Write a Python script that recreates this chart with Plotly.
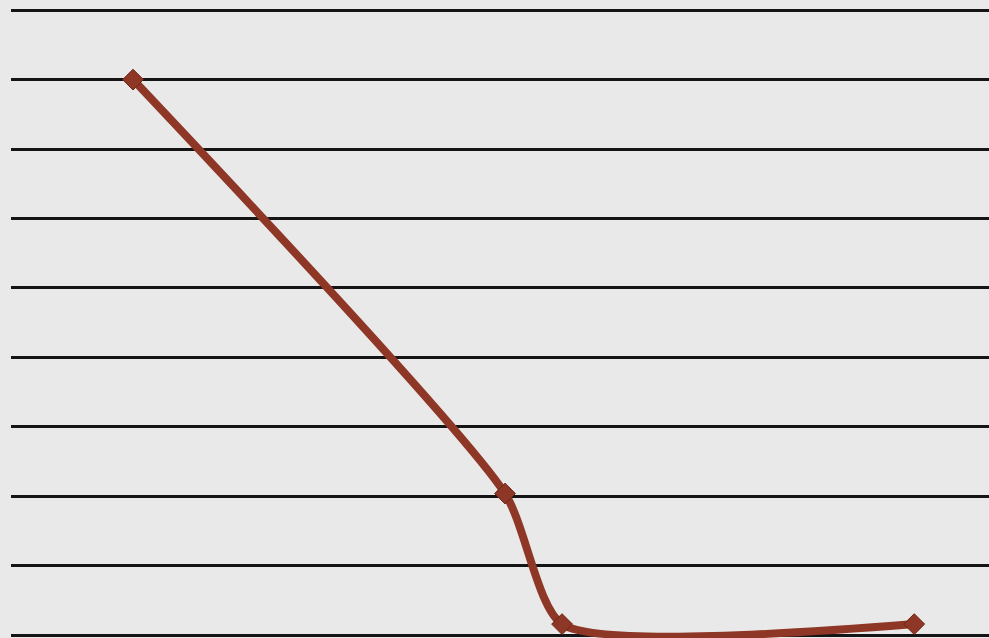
import plotly.graph_objects as go

x_vals = [0.0, 3.0, 3.46, 6.3]
y_vals = [8.0, 2.04, 0.16, 0.16]

fig = go.Figure()
fig.add_trace(go.Scatter(
    x=x_vals, y=y_vals,
    mode="lines+markers",
    line=dict(color="#8f3726", width=8, shape="spline", smoothing=0.6),
    marker=dict(symbol="diamond", size=16, color="#8f3726",
                line=dict(color="#6e2518", width=1)),
    cliponaxis=False,
    showlegend=False,
))

fig.update_layout(
    width=989, height=638,
    margin=dict(l=11, r=0, t=6, b=0, pad=0),
    paper_bgcolor="#e9e9e9",
    plot_bgcolor="#e9e9e9",
    xaxis=dict(range=[-0.984, 6.903], showgrid=False, zeroline=False,
               showticklabels=False, showline=False),
    yaxis=dict(range=[-0.04, 9.06], dtick=1, tick0=0, showgrid=True,
               gridcolor="#151515", gridwidth=2.5, zeroline=False,
               showticklabels=False, showline=False),
)

fig.write_html("out.html", config={"displayModeBar": False},
               post_script="document.body.style.margin='0';document.body.style.background='#e9e9e9';")
